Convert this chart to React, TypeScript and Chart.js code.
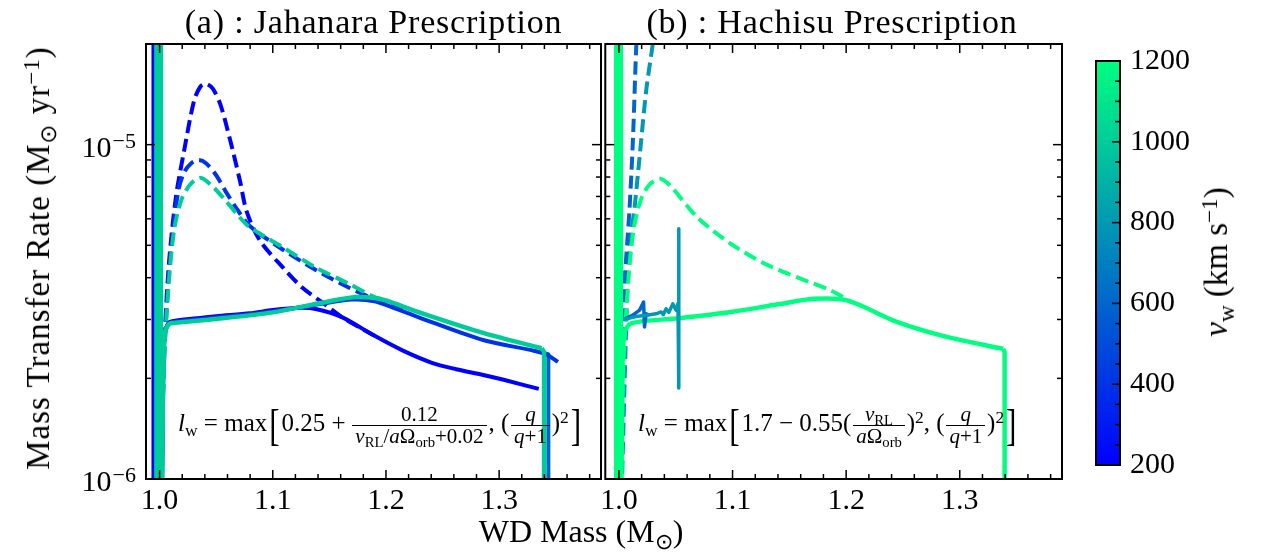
import React, { useEffect, useRef } from 'react';
import { Chart, registerables } from 'chart.js';

Chart.register(...registerables);

// ---------------- data ----------------
// tick values
const xMajorTicks = [1.0, 1.1, 1.2, 1.3];
const xMinorTicks = [1.02, 1.04, 1.06, 1.08, 1.12, 1.14, 1.16, 1.18, 1.22, 1.24, 1.26, 1.28, 1.32, 1.34, 1.36, 1.38];
const yMajorTicks = [1e-6, 1e-5];
const yMinorTicks = [2e-6, 3e-6, 4e-6, 5e-6, 6e-6, 7e-6, 8e-6, 9e-6];
const yTickBase = '10';
const yTickExponents = ['−6', '−5'];
const cbMajorTicks = [200, 400, 600, 800, 1000, 1200];
const cbMinorTicks = [250, 300, 350, 450, 500, 550, 650, 700, 750, 850, 900, 950, 1050, 1100, 1150];

// panel (a): Jahanara prescription
const aSpike200M = [0.9946, 0.9946];
const aSpike200R = [3e-5, 5e-7];
const aSpike1000M = [0.9992, 0.9992];
const aSpike1000R = [3e-5, 5e-7];

const aSolid200M = [1.0015, 1.003, 1.0045, 1.008, 1.0127, 1.03, 1.05, 1.08, 1.1, 1.124, 1.139, 1.161, 1.19, 1.215, 1.24, 1.262, 1.285, 1.304, 1.335];
const aSolid200R = [5e-7, 1.8e-6, 2.7e-6, 2.93e-6, 2.97e-6, 3.02e-6, 3.07e-6, 3.13e-6, 3.2e-6, 3.25e-6, 3.22e-6, 3.05e-6, 2.68e-6, 2.42e-6, 2.23e-6, 2.13e-6, 2.05e-6, 1.98e-6, 1.86e-6];
const aDash200M = [1.001, 1.004, 1.008, 1.0144, 1.0217, 1.0304, 1.036, 1.0412, 1.047, 1.0537, 1.0624, 1.071, 1.077, 1.0886, 1.1087, 1.126, 1.147, 1.161, 1.19];
const aDash200R = [8e-7, 2.4e-6, 4.3e-6, 6.96e-6, 9.6e-6, 1.35e-5, 1.49e-5, 1.52e-5, 1.47e-5, 1.32e-5, 1.03e-5, 7.8e-6, 6.3e-6, 5.17e-6, 4.3e-6, 3.74e-6, 3.31e-6, 3.05e-6, 2.68e-6];

const aSolid400M = [1.0015, 1.003, 1.0045, 1.008, 1.0127, 1.05, 1.1, 1.14, 1.17, 1.19, 1.21, 1.2284, 1.2866, 1.339, 1.352];
const aSolid400R = [5e-7, 1.8e-6, 2.7e-6, 2.92e-6, 2.95e-6, 3.04e-6, 3.17e-6, 3.33e-6, 3.44e-6, 3.4e-6, 3.22e-6, 3.05e-6, 2.6e-6, 2.38e-6, 2.24e-6];
const aDash400M = [1.001, 1.004, 1.008, 1.012, 1.017, 1.022, 1.028, 1.0345, 1.041, 1.05, 1.06, 1.07, 1.08, 1.109, 1.138, 1.167, 1.196, 1.215];
const aDash400R = [8e-7, 2.3e-6, 4.0e-6, 5.6e-6, 7.4e-6, 8.3e-6, 8.8e-6, 9.0e-6, 8.8e-6, 8.1e-6, 7.1e-6, 6.3e-6, 5.7e-6, 4.85e-6, 4.22e-6, 3.74e-6, 3.38e-6, 3.2e-6];

const aDrop600M = [1.33, 1.3435, 1.3435];
const aDrop600R = [2.42e-6, 2.36e-6, 5e-7];

const aSolid1000M = [1.0015, 1.003, 1.0045, 1.008, 1.0127, 1.05, 1.1, 1.14, 1.173, 1.19, 1.2, 1.2284, 1.2866, 1.3376];
const aSolid1000R = [5e-7, 1.8e-6, 2.7e-6, 2.9e-6, 2.93e-6, 3.01e-6, 3.15e-6, 3.35e-6, 3.5e-6, 3.48e-6, 3.42e-6, 3.16e-6, 2.73e-6, 2.46e-6];
const aDrop1000M = [1.3376, 1.3397, 1.3397];
const aDrop1000R = [2.46e-6, 2.4e-6, 5e-7];
const aDash1000M = [1.001, 1.004, 1.008, 1.0127, 1.019, 1.027, 1.036, 1.045, 1.056, 1.071, 1.08, 1.109, 1.138, 1.167, 1.19, 1.2];
const aDash1000R = [8e-7, 2.2e-6, 3.8e-6, 5.5e-6, 6.8e-6, 7.6e-6, 7.96e-6, 7.6e-6, 6.95e-6, 6.05e-6, 5.65e-6, 4.93e-6, 4.29e-6, 3.84e-6, 3.5e-6, 3.42e-6];

// panel (b): Hachisu prescription
const bSpike1200M = [0.9996, 0.9996];
const bSpike1200R = [3e-5, 5e-7];
const bSolid1200M = [1.0015, 1.003, 1.0045, 1.0108, 1.05, 1.0985, 1.14, 1.1717, 1.2009, 1.2447, 1.2886, 1.3383];
const bSolid1200R = [5e-7, 1.8e-6, 2.7e-6, 2.92e-6, 3.02e-6, 3.16e-6, 3.33e-6, 3.46e-6, 3.42e-6, 2.95e-6, 2.66e-6, 2.45e-6];
const bDrop1200M = [1.3383, 1.3395, 1.3395];
const bDrop1200R = [2.45e-6, 2.4e-6, 5e-7];
const bDash1200M = [1.001, 1.004, 1.008, 1.0127, 1.019, 1.027, 1.0368, 1.045, 1.0693, 1.0982, 1.128, 1.157, 1.186, 1.205];
const bDash1200R = [8e-7, 2.2e-6, 3.8e-6, 5.5e-6, 6.8e-6, 7.6e-6, 7.9e-6, 7.55e-6, 6.05e-6, 5.06e-6, 4.41e-6, 4.01e-6, 3.67e-6, 3.38e-6];
const bDash600M = [1.002, 1.005, 1.0064, 1.0094, 1.0123, 1.0152, 1.017];
const bDash600R = [8e-7, 3.84e-6, 4.6e-6, 6.5e-6, 1.03e-5, 1.95e-5, 2.5e-5];
const bDash800M = [1.002, 1.0079, 1.0108, 1.0138, 1.0182, 1.024, 1.0298, 1.032];
const bDash800R = [8e-7, 4.1e-6, 5.4e-6, 6.5e-6, 9.2e-6, 1.45e-5, 2.0e-5, 2.3e-5];
const bSolid600M = [1.004, 1.0123, 1.0182, 1.0217, 1.0225, 1.024, 1.0269];
const bSolid600R = [3.0e-6, 3.09e-6, 3.2e-6, 3.38e-6, 2.85e-6, 3.12e-6, 3.09e-6];
const bSolid800M = [1.004, 1.015, 1.027, 1.0327, 1.0371, 1.039, 1.0415, 1.044, 1.0474, 1.0503, 1.052, 1.0526, 1.0528];
const bSolid800R = [3.0e-6, 3.06e-6, 3.1e-6, 3.12e-6, 3.16e-6, 3.1e-6, 3.23e-6, 3.15e-6, 3.34e-6, 3.2e-6, 3.35e-6, 5.6e-6, 1.87e-6];

// ---------------- styling helpers ----------------
const FONT = '"Liberation Serif", "Times New Roman", serif';
const V_MIN = 200;
const V_MAX = 1200;

function winter(v: number): string {
  const t = Math.min(1, Math.max(0, (v - V_MIN) / (V_MAX - V_MIN)));
  return `rgb(0, ${Math.round(255 * t)}, ${Math.round(255 * (1 - t / 2))})`;
}

function series(xs: number[], ys: number[], v: number, order: number, dashed = false, width = 4.5, tension = 0.3) {
  return {
    data: xs.map((x, i) => ({ x, y: ys[i] })),
    borderColor: winter(v),
    backgroundColor: winter(v),
    borderWidth: width,
    borderDash: dashed ? [13, 6] : [],
    borderJoinStyle: 'round',
    borderCapStyle: 'butt',
    pointRadius: 0,
    pointHoverRadius: 0,
    showLine: true,
    fill: false,
    tension,
    clip: 0,
    order,
  };
}

const framePlugin = {
  id: 'frame',
  afterDatasetsDraw(chart: any, _args: any, opts: any) {
    const { ctx, chartArea } = chart;
    const { left, right, top, bottom } = chartArea;
    ctx.save();
    ctx.strokeStyle = '#000';
    ctx.lineCap = 'butt';
    ctx.lineWidth = 1.5;
    const xs = chart.scales.x;
    const ys = chart.scales.y;
    const seg = (x1: number, y1: number, x2: number, y2: number) => {
      ctx.beginPath();
      ctx.moveTo(x1, y1);
      ctx.lineTo(x2, y2);
      ctx.stroke();
    };
    xs.ticks.forEach((t: any) => {
      const p = xs.getPixelForValue(t.value);
      const L = xMajorTicks.includes(t.value) ? 9 : 5;
      seg(p, bottom, p, bottom - L);
      seg(p, top, p, top + L);
    });
    ys.ticks.forEach((t: any) => {
      const p = ys.getPixelForValue(t.value);
      const L = yMajorTicks.includes(t.value) ? 9 : 5;
      seg(left, p, left + L, p);
      seg(right, p, right - L, p);
    });
    ctx.lineWidth = 2;
    ctx.strokeRect(left, top, right - left, bottom - top);
    // log tick labels with real superscripts
    if (opts && opts.yLabels) {
      ctx.fillStyle = '#000';
      ctx.textAlign = 'right';
      ctx.textBaseline = 'alphabetic';
      yMajorTicks.forEach((v, i) => {
        const p = ys.getPixelForValue(v);
        const xr = left - 10;
        ctx.font = `22px ${FONT}`;
        const e = yTickExponents[i];
        const w = ctx.measureText(e).width;
        ctx.fillText(e, xr, p + 3);
        ctx.font = `30px ${FONT}`;
        ctx.fillText(yTickBase, xr - w - 1, p + 12);
      });
    }
    ctx.restore();
  },
};

const colorbarPlugin = {
  id: 'cbar',
  beforeDatasetsDraw(chart: any) {
    const { ctx, chartArea } = chart;
    const { left, right, top, bottom } = chartArea;
    const ys = chart.scales.y;
    ctx.save();
    const g = ctx.createLinearGradient(0, ys.getPixelForValue(V_MIN), 0, ys.getPixelForValue(V_MAX));
    g.addColorStop(0, winter(V_MIN));
    g.addColorStop(1, winter(V_MAX));
    ctx.fillStyle = g;
    ctx.fillRect(left, top, right - left, bottom - top);
    ctx.strokeStyle = '#000';
    ctx.lineWidth = 1.5;
    ys.ticks.forEach((t: any) => {
      const p = ys.getPixelForValue(t.value);
      const L = cbMajorTicks.includes(t.value) ? 8 : 5;
      ctx.beginPath();
      ctx.moveTo(right, p);
      ctx.lineTo(right - L, p);
      ctx.stroke();
    });
    ctx.lineWidth = 2;
    ctx.strokeRect(left, top, right - left, bottom - top);
    ctx.restore();
  },
};

function panelOptions(showYLabels: boolean, padding: any, yWidth: number) {
  return {
    responsive: false,
    animation: false,
    devicePixelRatio: 1,
    events: [],
    layout: { padding, autoPadding: false },
    plugins: {
      legend: { display: false },
      tooltip: { enabled: false },
      title: { display: false },
      frame: { yLabels: showYLabels },
    },
    scales: {
      x: {
        type: 'linear',
        min: 0.988,
        max: 1.39,
        afterBuildTicks: (s: any) => {
          s.ticks = [...xMajorTicks, ...xMinorTicks].sort((a, b) => a - b).map((v) => ({ value: v }));
        },
        afterFit: (s: any) => {
          s.height = 75;
        },
        grid: { display: false, drawTicks: false },
        border: { display: false },
        ticks: {
          autoSkip: false,
          maxRotation: 0,
          minRotation: 0,
          padding: 4,
          color: '#000',
          font: { family: FONT, size: 30 },
          callback: (v: number) => (xMajorTicks.includes(v) ? v.toFixed(1) : ''),
        },
      },
      y: {
        type: 'logarithmic',
        min: 1e-6,
        max: 2e-5,
        afterBuildTicks: (s: any) => {
          s.ticks = [...yMajorTicks, ...yMinorTicks].sort((a, b) => a - b).map((v) => ({ value: v }));
        },
        afterFit: (s: any) => {
          s.width = yWidth;
        },
        grid: { display: false, drawTicks: false },
        border: { display: false },
        ticks: { display: false, autoSkip: false },
      },
    },
  };
}

// ---------------- small text helpers ----------------
const Sub = ({ children }: any) => (
  <span style={{ fontSize: '0.7em', position: 'relative', top: '0.3em', lineHeight: 0 }}>{children}</span>
);
const Sup = ({ children }: any) => (
  <span style={{ fontSize: '0.7em', position: 'relative', top: '-0.45em', lineHeight: 0 }}>{children}</span>
);
const Frac = ({ n, d }: any) => (
  <span
    style={{
      display: 'inline-flex',
      flexDirection: 'column',
      alignItems: 'center',
      verticalAlign: 'middle',
      fontSize: '0.84em',
      lineHeight: 1.0,
      margin: '0 0.08em',
    }}
  >
    <span style={{ padding: '0 0.15em' }}>{n}</span>
    <span style={{ borderTop: '1px solid #000', padding: '0 0.15em' }}>{d}</span>
  </span>
);
const Br = ({ children }: any) => (
  <span
    style={{
      display: 'inline-block',
      fontSize: '1.25em',
      lineHeight: 1,
      transform: 'scaleY(1.45)',
      verticalAlign: '-0.12em',
      margin: '0 0.06em',
    }}
  >
    {children}
  </span>
);

export default function App() {
  const refA = useRef<HTMLCanvasElement>(null);
  const refB = useRef<HTMLCanvasElement>(null);
  const refC = useRef<HTMLCanvasElement>(null);

  useEffect(() => {
    const dataA = [
      series(aSpike1000M, aSpike1000R, 1000, 1, false, 9, 0),
      series(aDrop1000M, aDrop1000R, 1000, 2, false, 4.5, 0),
      series(aSolid1000M, aSolid1000R, 1000, 2),
      series(aDash1000M, aDash1000R, 1000, 3, true, 4),
      series(aDash400M, aDash400R, 400, 5, true, 4),
      series(aSolid400M, aSolid400R, 400, 6, false, 4),
      series(aDash200M, aDash200R, 200, 7, true, 4),
      series(aSolid200M, aSolid200R, 200, 8, false, 4),
      series(aDrop600M, aDrop600R, 600, 9, false, 4, 0),
      series(aSpike200M, aSpike200R, 200, 10, false, 4, 0),
    ];
    const dataB = [
      series(bSpike1200M, bSpike1200R, 1200, 1, false, 9, 0),
      series(bSolid800M, bSolid800R, 800, 2, false, 3.5, 0),
      series(bSolid600M, bSolid600R, 600, 3, false, 3.5, 0),
      series(bSolid1200M, bSolid1200R, 1200, 4),
      series(bDrop1200M, bDrop1200R, 1200, 4, false, 4.5, 0),
      series(bDash1200M, bDash1200R, 1200, 5, true, 4),
      series(bDash600M, bDash600R, 600, 6, true, 4),
      series(bDash800M, bDash800R, 800, 7, true, 4),
    ];
    const chartA = new Chart(refA.current as HTMLCanvasElement, {
      type: 'scatter',
      data: { datasets: dataA as any },
      options: panelOptions(true, { top: 44, right: 9, left: 0, bottom: 0 }, 146) as any,
      plugins: [framePlugin],
    });
    const chartB = new Chart(refB.current as HTMLCanvasElement, {
      type: 'scatter',
      data: { datasets: dataB as any },
      options: panelOptions(false, { top: 44, right: 8, left: 6, bottom: 0 }, 0) as any,
      plugins: [framePlugin],
    });
    const chartC = new Chart(refC.current as HTMLCanvasElement, {
      type: 'scatter',
      data: { datasets: [] },
      options: {
        responsive: false,
        animation: false,
        devicePixelRatio: 1,
        events: [],
        layout: { padding: { left: 16, top: 61, bottom: 89, right: 0 }, autoPadding: false },
        plugins: { legend: { display: false }, tooltip: { enabled: false } },
        scales: {
          x: { type: 'linear', display: false, min: 0, max: 1 },
          y: {
            type: 'linear',
            position: 'right',
            min: V_MIN,
            max: V_MAX,
            afterBuildTicks: (s: any) => {
              s.ticks = [...cbMajorTicks, ...cbMinorTicks].sort((a, b) => a - b).map((v) => ({ value: v }));
            },
            afterFit: (s: any) => {
              s.width = 141;
            },
            grid: { display: false, drawTicks: false },
            border: { display: false },
            ticks: {
              autoSkip: false,
              padding: 10,
              color: '#000',
              font: { family: FONT, size: 30 },
              callback: (v: number) => (cbMajorTicks.includes(v) ? String(v) : ''),
            },
          },
        },
      } as any,
      plugins: [colorbarPlugin],
    });
    return () => {
      chartA.destroy();
      chartB.destroy();
      chartC.destroy();
    };
  }, []);

  const abs = (s: any) => ({ position: 'absolute', whiteSpace: 'nowrap', ...s });

  return (
    <div style={{ position: 'absolute', left: 0, top: 0, width: 1261, height: 554, background: '#fff', fontFamily: FONT, color: '#000', overflow: 'hidden' }}>
      <canvas ref={refA} width={610} height={554} style={{ position: 'absolute', left: 0, top: 0, width: 610, height: 554 }} />
      <canvas ref={refB} width={474} height={554} style={{ position: 'absolute', left: 596, top: 0, width: 474, height: 554 }} />
      <canvas ref={refC} width={181} height={554} style={{ position: 'absolute', left: 1080, top: 0, width: 181, height: 554 }} />

      <div style={abs({ left: 146, width: 455, top: 3, textAlign: 'center', fontSize: 34, lineHeight: '38px', letterSpacing: 0.8 })}>
        (a) : Jahanara Prescription
      </div>
      <div style={abs({ left: 602, width: 460, top: 3, textAlign: 'center', fontSize: 34, lineHeight: '38px', letterSpacing: 0.8 })}>
        (b) : Hachisu Prescription
      </div>

      <div style={abs({ left: 581, top: 531, transform: 'translate(-50%, -50%)', fontSize: 32, lineHeight: '36px' })}>
        WD Mass (M<Sub>⊙</Sub>)
      </div>
      <div style={abs({ left: 38, top: 258, transform: 'translate(-50%, -50%) rotate(-90deg)', fontSize: 33, lineHeight: '36px', letterSpacing: 1 })}>
        Mass Transfer Rate (M<Sub>⊙</Sub> yr<Sup>−1</Sup>)
      </div>
      <div style={abs({ left: 1216, top: 262, transform: 'translate(-50%, -50%) rotate(-90deg)', fontSize: 33, lineHeight: '36px' })}>
        <i>v</i>
        <Sub>w</Sub> (km s<Sup>−1</Sup>)
      </div>

      <div style={abs({ left: 178, top: 399, fontSize: 25, lineHeight: '48px' })}>
        <i>l</i>
        <Sub>w</Sub> = max<Br>[</Br>0.25 +{'\u2009'}
        <Frac
          n="0.12"
          d={
            <>
              <i>v</i>
              <Sub>RL</Sub>/<i>a</i>Ω<Sub>orb</Sub>+0.02
            </>
          }
        />
        , (
        <Frac n={<i>q</i>} d={<><i>q</i>+1</>} />)<Sup>2</Sup>
        <Br>]</Br>
      </div>
      <div style={abs({ left: 638, top: 399, fontSize: 25, lineHeight: '48px' })}>
        <i>l</i>
        <Sub>w</Sub> = max<Br>[</Br>1.7 − 0.55(
        <Frac
          n={
            <>
              <i>v</i>
              <Sub>RL</Sub>
            </>
          }
          d={
            <>
              <i>a</i>Ω<Sub>orb</Sub>
            </>
          }
        />
        )<Sup>2</Sup>, (
        <Frac n={<i>q</i>} d={<><i>q</i>+1</>} />)<Sup>2</Sup>
        <Br>]</Br>
      </div>
    </div>
  );
}
